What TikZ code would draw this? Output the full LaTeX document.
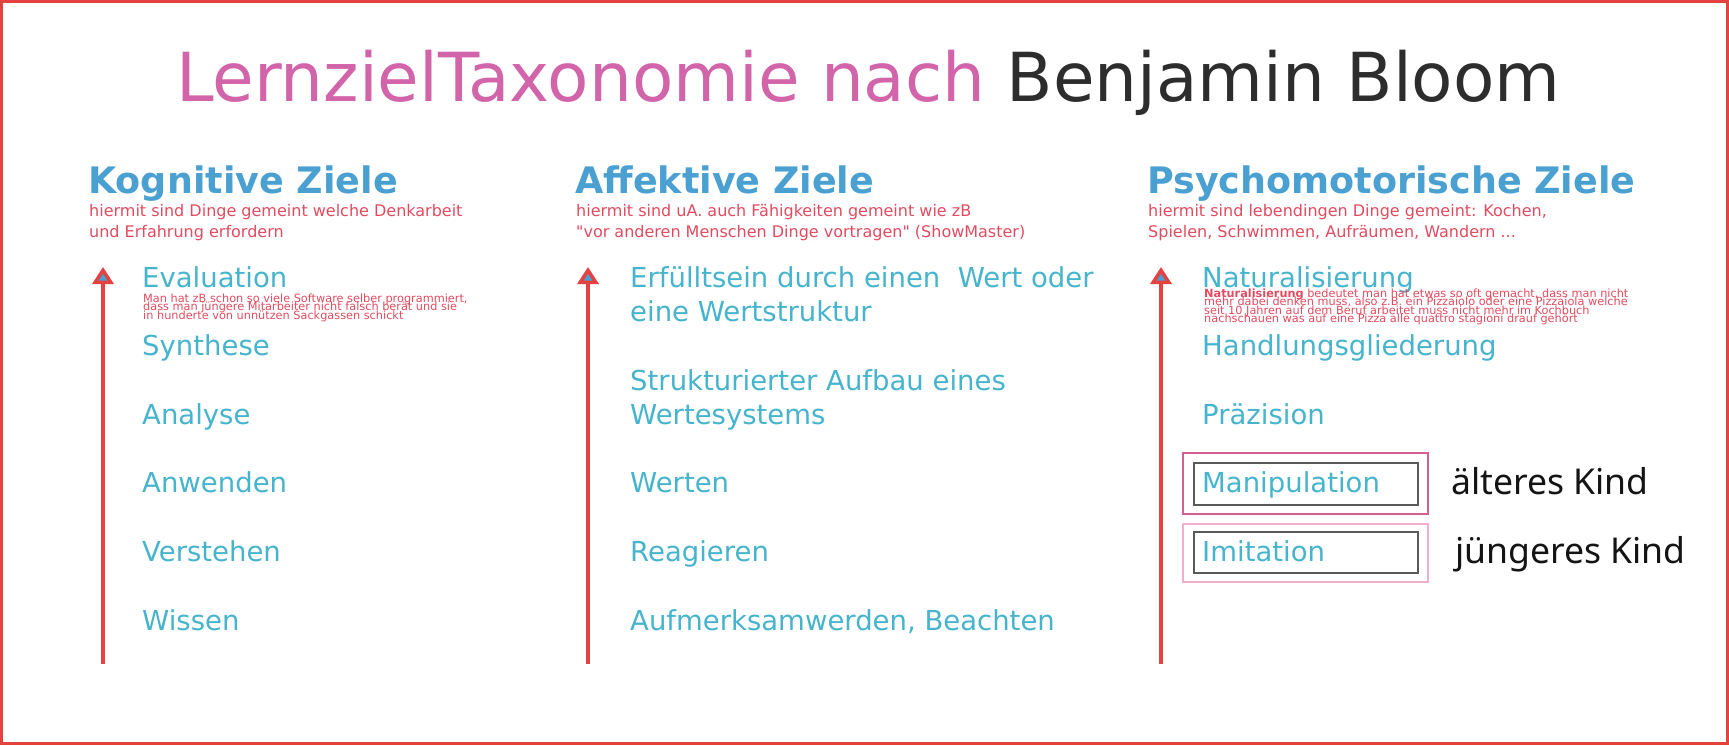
\documentclass[tikz,border=0pt]{standalone}
\usepackage{fontspec}
\setmainfont{DejaVu Sans}[Ligatures=TeXOff]
\newfontfamily\kindfont{Noto Sans}
\usetikzlibrary{arrows.meta}
\definecolor{itemteal}{RGB}{70,180,205}
\definecolor{headblue}{RGB}{75,160,210}
\definecolor{notered}{RGB}{225,75,95}
\definecolor{titlepink}{RGB}{210,100,170}
\definecolor{titledark}{RGB}{45,45,45}
\definecolor{arrowred}{RGB}{228,65,65}
\definecolor{boxpink}{RGB}{212,95,145}
\definecolor{boxlightpink}{RGB}{240,175,205}
\definecolor{boxgray}{RGB}{90,90,90}
\definecolor{kindblack}{RGB}{20,20,20}
\newcommand\setfs[2]{\fontsize{#1}{#2}\selectfont}
\begin{document}
\begin{tikzpicture}[x=1pt,y=-1pt,
  every node/.style={inner sep=0pt, anchor=base west},
  titlestyle/.style={font=\setfs{67.6}{80}, text=titlepink},
  headstyle/.style={font=\bfseries\setfs{36.5}{44}, text=headblue},
  substyle/.style={font=\setfs{16}{19}, text=notered},
  itemstyle/.style={font=\setfs{27.5}{33}, text=itemteal},
  notestyle/.style={font=\setfs{11.3}{12}, text=notered},
  kindstyle/.style={font=\kindfont\setfs{35.6}{42}, text=kindblack},
  risearrow/.style={draw=arrowred, line width=3.5pt, -{Triangle[length=17pt,width=21pt,fill=headblue]}},
  framestyle/.style={draw=arrowred, line width=3pt},
  outerbox/.style={draw=boxpink, line width=1.8pt},
  outerboxlight/.style={draw=boxlightpink, line width=1.8pt},
  innerbox/.style={draw=boxgray, line width=1.5pt}]
\useasboundingbox (0,0) rectangle (1729,745);
\draw[framestyle] (1.5,1.5) rectangle (1727.5,743.5);

% title
\node[titlestyle] (title) at (176,101) {LernzielTaxonomie nach \textcolor{titledark}{Benjamin Bloom}};

% headings
\node[headstyle] (h1) at (88,193) {Kognitive Ziele};
\node[headstyle] (h2) at (575,193) {Affektive Ziele};
\node[headstyle] (h3) at (1147,193) {Psychomotorische Ziele};

\node[substyle] (s1a) at (89,216.5) {hiermit sind Dinge gemeint welche Denkarbeit};
\node[substyle] (s1b) at (89,237) {und Erfahrung erfordern};
\node[substyle] (s2a) at (576,216.5) {hiermit sind uA. auch Fähigkeiten gemeint wie zB};
\node[substyle] (s2b) at (576,237) {"vor anderen Menschen Dinge vortragen" (ShowMaster)};
\node[substyle] (s3a) at (1148,216.5) {hiermit sind lebendingen Dinge gemeint: Kochen,};
\node[substyle] (s3b) at (1148,237) {Spielen, Schwimmen, Aufräumen, Wandern ...};

% arrows
\coordinate (a1s) at (103,664); \coordinate (a1e) at (103,267);
\coordinate (a2s) at (588,664); \coordinate (a2e) at (588,267);
\coordinate (a3s) at (1161,664); \coordinate (a3e) at (1161,267);
\draw[risearrow] (a1s) -- (a1e);
\draw[risearrow] (a2s) -- (a2e);
\draw[risearrow] (a3s) -- (a3e);

% column 1
\node[itemstyle] (k6) at (142,287) {Evaluation};
\node[notestyle] (n1a) at (143,302.5) {Man hat zB schon so viele Software selber programmiert,};
\node[notestyle] (n1b) at (143,310.7) {dass man jüngere Mitarbeiter nicht falsch berät und sie};
\node[notestyle] (n1c) at (143,319) {in hunderte von unnützen Sackgassen schickt};
\node[itemstyle] (k5) at (142,355.5) {Synthese};
\node[itemstyle] (k4) at (142,424) {Analyse};
\node[itemstyle] (k3) at (142,492.5) {Anwenden};
\node[itemstyle] (k2) at (142,561) {Verstehen};
\node[itemstyle] (k1) at (142,630) {Wissen};

% column 2
\node[itemstyle] (f5a) at (630,287) {Erfülltsein durch einen\ \ Wert oder};
\node[itemstyle] (f5b) at (630,321) {eine Wertstruktur};
\node[itemstyle] (f4a) at (630,390) {Strukturierter Aufbau eines};
\node[itemstyle] (f4b) at (630,424) {Wertesystems};
\node[itemstyle] (f3) at (630,492.5) {Werten};
\node[itemstyle] (f2) at (630,561) {Reagieren};
\node[itemstyle] (f1) at (630,630) {Aufmerksamwerden, Beachten};

% column 3
\node[itemstyle] (p5) at (1202,287) {Naturalisierung};
\node[notestyle] (n3a) at (1204,297.5) {\textbf{Naturalisierung} bedeutet man hat etwas so oft gemacht, dass man nicht};
\node[notestyle] (n3b) at (1204,305.8) {mehr dabei denken muss, also z.B. ein Pizzaiolo oder eine Pizzaiola welche};
\node[notestyle] (n3c) at (1204,314.1) {seit 10 Jahren auf dem Beruf arbeitet muss nicht mehr im Kochbuch};
\node[notestyle] (n3d) at (1204,322.4) {nachschauen was auf eine Pizza alle quattro stagioni drauf gehört};
\node[itemstyle] (p4) at (1202,355.5) {Handlungsgliederung};
\node[itemstyle] (p3) at (1202,424) {Präzision};

\draw[outerbox] (1183,453) rectangle (1428,514);
\draw[innerbox] (1194,463) rectangle (1418,505);
\node[itemstyle] (p2) at (1202,492.5) {Manipulation};
\draw[outerboxlight] (1183,524) rectangle (1428,582);
\draw[innerbox] (1194,532) rectangle (1418,573);
\node[itemstyle] (p1) at (1202,561) {Imitation};

\node[kindstyle] (kind1) at (1451,494) {älteres Kind};
\node[kindstyle] (kind2) at (1455,563) {jüngeres Kind};
\end{tikzpicture}
\end{document}
